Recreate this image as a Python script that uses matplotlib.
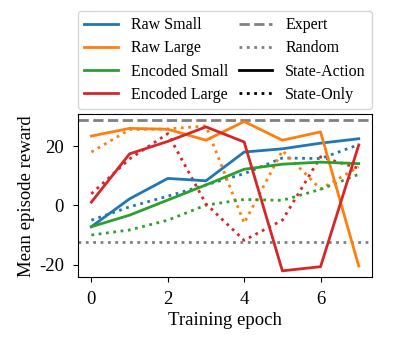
import numpy as np
import matplotlib
matplotlib.use('Agg')
import matplotlib.pyplot as plt
from matplotlib.lines import Line2D

plt.rcParams['font.family'] = ['Liberation Serif', 'DejaVu Serif']
plt.rcParams['axes.unicode_minus'] = False

# Data
epochs = [0, 1, 2, 3, 4, 5, 6, 7]

# State-Action (solid)
raw_small_sa = [-7.2, 2.2, 9.1, 8.3, 18.0, 19.1, 21.0, 22.5]
raw_large_sa = [23.4, 26.0, 25.7, 22.0, 28.3, 22.0, 24.8, -20.5]
enc_small_sa = [-7.2, -3.3, 1.8, 6.9, 12.2, 13.9, 14.6, 14.1]
enc_large_sa = [1.1, 17.4, 21.6, 26.5, 21.4, -22.1, -20.7, 20.4]

# State-Only (dotted)
raw_small_so = [-5.0, -0.5, 3.1, 6.9, 10.7, 16.0, 15.8, 20.5]
raw_large_so = [18.0, 25.6, 25.8, 26.8, -6.0, 18.5, 5.5, 13.0]
enc_small_so = [-10.0, -8.3, -5.0, 0.1, 2.0, 1.7, 5.4, 10.5]
enc_large_so = [3.9, 15.7, 24.2, 0.5, -11.8, -5.0, 16.4, 12.5]

expert = 28.8
random_level = -12.4

names = ['Raw Small', 'Raw Large', 'Encoded Small', 'Encoded Large']
colors = ['#1f77b4', '#ff7f0e', '#2ca02c', '#d62728']
sa = [raw_small_sa, raw_large_sa, enc_small_sa, enc_large_sa]
so = [raw_small_so, raw_large_so, enc_small_so, enc_large_so]

fig = plt.figure(figsize=(3.98, 3.48), dpi=100)
ax = fig.add_axes([0.196, 0.203, 0.739, 0.469])

ax.axhline(expert, color='gray', linestyle='--', linewidth=2)
ax.axhline(random_level, color='gray', linestyle=':', linewidth=2)

for c, ys in zip(colors, so):
    ax.plot(epochs, ys, color=c, linestyle=':', linewidth=2)
for c, ys in zip(colors, sa):
    ax.plot(epochs, ys, color=c, linestyle='-', linewidth=2)

ax.set_xlim(-0.35, 7.35)
ax.set_ylim(-24.3, 30.8)
ax.set_xticks([0, 2, 4, 6])
ax.set_yticks([-20, 0, 20])
ax.tick_params(labelsize=13.5, pad=6.5)
ax.set_xlabel('Training epoch', fontsize=13.5, labelpad=3)
ax.set_ylabel('Mean episode reward', fontsize=13.5, labelpad=3)

handles = [Line2D([], [], color=c, linewidth=2) for c in colors]
handles += [Line2D([], [], color='gray', linestyle='--', linewidth=2),
            Line2D([], [], color='gray', linestyle=':', linewidth=2),
            Line2D([], [], color='black', linestyle='-', linewidth=2),
            Line2D([], [], color='black', linestyle=':', linewidth=2)]
labels = names + ['Expert', 'Random', 'State-Action', 'State-Only']
ax.legend(handles, labels, ncol=2, loc='lower left', mode='expand',
          bbox_to_anchor=(0, 1.03, 1, 0.2), fontsize=11.5, borderaxespad=0,
          handlelength=2.1, labelspacing=0.45, columnspacing=1.0,
          handletextpad=0.8)

fig.savefig('out.png', dpi=100)
